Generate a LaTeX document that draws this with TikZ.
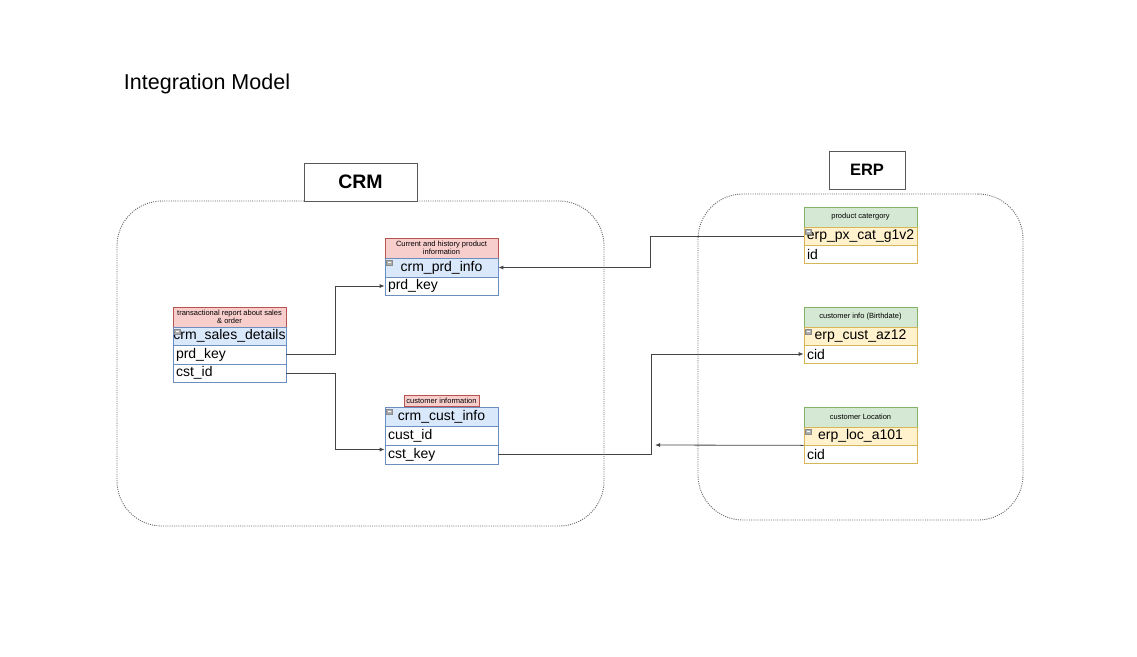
\documentclass[tikz,border=0pt]{standalone}
\usepackage{fontspec}
\setmainfont{Liberation Sans}
\usetikzlibrary{arrows.meta,calc}
\definecolor{pinkf}{HTML}{F8CECC}
\definecolor{pinkd}{HTML}{B85450}
\definecolor{bluef}{HTML}{DAE8FC}
\definecolor{blued}{HTML}{6C8EBF}
\definecolor{greenf}{HTML}{D5E8D4}
\definecolor{greend}{HTML}{82B366}
\definecolor{orangef}{HTML}{FFF2CC}
\definecolor{oranged}{HTML}{D6B656}
\definecolor{linec}{HTML}{444444}
\tikzset{
  part/.style={rectangle, inner sep=0pt, line width=0.7pt, minimum width=113pt},
  hdrtext/.style={font=\fontsize{7.5}{8.5}\selectfont, align=center},
  pinkhdr/.style={part, hdrtext, fill=pinkf, draw=pinkd, minimum height=20pt},
  greenhdr/.style={part, hdrtext, fill=greenf, draw=greend, minimum height=20pt},
  bluetitle/.style={part, fill=bluef, draw=blued, font=\fontsize{14}{16}\selectfont},
  orangetitle/.style={part, fill=orangef, draw=oranged, font=\fontsize{14}{16}\selectfont},
  bluerow/.style={part, fill=white, draw=blued, font=\fontsize{14}{16}\selectfont, text width=107pt, align=left},
  orangerow/.style={part, fill=white, draw=oranged, font=\fontsize{14}{16}\selectfont, text width=107pt, align=left},
  minusicon/.style={rectangle, draw=gray!90, fill=gray!65, line width=0.4pt, minimum width=6pt, minimum height=5pt, inner sep=0pt,
    path picture={\draw[white, line width=0.7pt] ([xshift=1.2pt]path picture bounding box.west) -- ([xshift=-1.2pt]path picture bounding box.east);}},
  container/.style={rectangle, draw=black!60, dash pattern=on 1pt off 1.2pt, line width=0.9pt, rounded corners=45pt},
  groupbox/.style={rectangle, draw=black!65, fill=white, line width=0.8pt, font=\bfseries},
  conn/.style={draw=linec, line width=0.8pt, -{Latex[length=5pt,width=4pt]}},
  plain/.style={draw=linec, line width=0.8pt}
}
\begin{document}
\begin{tikzpicture}[x=1pt,y=-1pt]
\useasboundingbox (0,0) rectangle (1137,656);

\node[font=\fontsize{21.5}{24}\selectfont] (title) at (207,83.5) {Integration Model};

% containers
\node[container, minimum width=487pt, minimum height=325pt] (crmc) at (360.5,363.5) {};
\node[container, minimum width=325pt, minimum height=326pt] (erpc) at (860.5,357) {};

% group labels
\node[groupbox, minimum width=113pt, minimum height=38pt, font=\bfseries\fontsize{19.5}{22}\selectfont] (crmlbl) at (360.5,182) {CRM};
\node[groupbox, minimum width=76pt, minimum height=38pt, font=\bfseries\fontsize{16.5}{19}\selectfont] (erplbl) at (867,170) {ERP};

% crm_prd_info
\node[pinkhdr] (ph) at (441.5,248) {Current and history product\\information};
\node[bluetitle, minimum height=19pt] (pt) at (441.5,267.5) {crm\_prd\_info};
\node[bluerow, minimum height=18pt] (pk) at (441.5,286) {prd\_key};
\node[minusicon] (pm) at ($(pt.north west)+(5,5)$) {};

% crm_sales_details
\node[pinkhdr] (sh) at (229.5,317) {transactional report about sales\\\& order};
\node[bluetitle, minimum height=18pt] (st) at (229.5,336) {crm\_sales\_details};
\node[bluerow, minimum height=19pt] (sp) at (229.5,354.5) {prd\_key};
\node[bluerow, minimum height=18pt] (sc) at (229.5,373) {cst\_id};
\node[minusicon] (sm) at ($(st.north west)+(5,5)$) {};

% crm_cust_info
\node[pinkhdr, minimum width=75pt, minimum height=11pt] (ch) at (441.5,400.5) {customer information};
\node[bluetitle, minimum height=19pt] (ct) at (441.5,416.5) {crm\_cust\_info};
\node[bluerow, minimum height=19pt] (ci) at (441.5,435.5) {cust\_id};
\node[bluerow, minimum height=19pt] (ck) at (441.5,454.5) {cst\_key};
\node[minusicon] (cm) at ($(ct.north west)+(5,5)$) {};

% erp_px_cat_g1v2
\node[greenhdr] (ah) at (860.5,217) {product catergory};
\node[orangetitle, minimum height=18pt] (at) at (860.5,236) {erp\_px\_cat\_g1v2};
\node[orangerow, minimum height=18pt] (ar) at (860.5,254) {id};
\node[minusicon] (am) at ($(at.north west)+(5,5)$) {};

% erp_cust_az12
\node[greenhdr] (bh) at (860.5,317) {customer info (Birthdate)};
\node[orangetitle, minimum height=18pt] (bt) at (860.5,336) {erp\_cust\_az12};
\node[orangerow, minimum height=18pt] (br) at (860.5,354) {cid};
\node[minusicon] (bm) at ($(bt.north west)+(5,5)$) {};

% erp_loc_a101
\node[greenhdr] (lh) at (860.5,417) {customer Location};
\node[orangetitle, minimum height=18pt] (lt) at (860.5,436) {erp\_loc\_a101};
\node[orangerow, minimum height=18pt] (lr) at (860.5,454) {cid};
\node[minusicon] (lm) at ($(lt.north west)+(5,5)$) {};

% connectors
\draw[conn] (sp.east) -- ++(49,0) |- (pk.west);
\draw[conn] (sc.east) -- ++(49,0) |- ($(ck.west)+(0,-5)$);
\draw[conn] (at.west) -- ++(-153,0) |- (pt.east);
\draw[conn] (ck.east) -- ++(153,0) |- (br.west);
\coordinate (locend) at (655,445);
\draw[conn] (lt.south west) -- (locend);
\end{tikzpicture}
\end{document}
